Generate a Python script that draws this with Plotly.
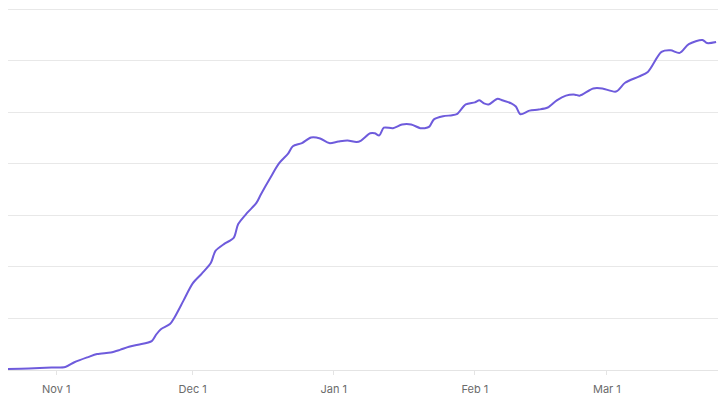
import plotly.graph_objects as go

# values, irregular sampling
dates = [
    "2023-10-21", "2023-10-26", "2023-10-31", "2023-11-03", "2023-11-05",
    "2023-11-08", "2023-11-10", "2023-11-13", "2023-11-15", "2023-11-17",
    "2023-11-19", "2023-11-22", "2023-11-23", "2023-11-24", "2023-11-26",
    "2023-11-27", "2023-11-29", "2023-12-01", "2023-12-03", "2023-12-05",
    "2023-12-06", "2023-12-08", "2023-12-10", "2023-12-11", "2023-12-13",
    "2023-12-15", "2023-12-16", "2023-12-18", "2023-12-20", "2023-12-22",
    "2023-12-23", "2023-12-25", "2023-12-27", "2023-12-29", "2023-12-31",
    "2024-01-02", "2024-01-04", "2024-01-06", "2024-01-07", "2024-01-09",
    "2024-01-10", "2024-01-11", "2024-01-12", "2024-01-14", "2024-01-16",
    "2024-01-18", "2024-01-20", "2024-01-21", "2024-01-22", "2024-01-23",
    "2024-01-25", "2024-01-27", "2024-01-28", "2024-01-30", "2024-02-01",
    "2024-02-02", "2024-02-03", "2024-02-04", "2024-02-06", "2024-02-07",
    "2024-02-09", "2024-02-10", "2024-02-11", "2024-02-13", "2024-02-15",
    "2024-02-17", "2024-02-19", "2024-02-21", "2024-02-23", "2024-02-24",
    "2024-02-27", "2024-02-29", "2024-03-03", "2024-03-05", "2024-03-08",
    "2024-03-10", "2024-03-13", "2024-03-15", "2024-03-17", "2024-03-19",
    "2024-03-22", "2024-03-23", "2024-03-25",
]
values = [
    0.2, 0.3, 0.5, 0.6, 1.5,
    2.5, 3.1, 3.4, 3.9, 4.5,
    4.9, 5.6, 6.9, 7.9, 8.9,
    10.2, 13.5, 16.8, 18.7, 20.8,
    23.1, 24.5, 25.6, 28.3, 30.5,
    32.4, 34.1, 37.2, 40.1, 42.0,
    43.4, 44.0, 45.1, 44.9, 44.0,
    44.3, 44.5, 44.2, 44.5, 45.9,
    45.9, 45.5, 47.0, 46.9, 47.6,
    47.6, 46.9, 46.9, 47.2, 48.6,
    49.2, 49.4, 49.6, 51.5, 51.9,
    52.3, 51.7, 51.5, 52.6, 52.3,
    51.7, 51.1, 49.6, 50.3, 50.5,
    50.9, 52.3, 53.2, 53.4, 53.2,
    54.6, 54.6, 54.0, 55.7, 56.9,
    57.8, 61.7, 62.0, 61.5, 63.2,
    64.0, 63.4, 63.6,
]

fig = go.Figure()
fig.add_trace(go.Scatter(x=dates, y=values, mode="lines",
                         line=dict(color="#6E5BDC", width=2, shape="spline", smoothing=0.8),
                         hoverinfo="x+y"))

# page body adds 8px around the figure, so the figure is a bit smaller than the window
fig.update_layout(
    width=720, height=405,
    margin=dict(l=0, r=10, t=0, b=43),
    paper_bgcolor="white", plot_bgcolor="white",
    showlegend=False,
    font=dict(family="Inter, Roboto, sans-serif", size=11, color="#6b6b6b"),
)
fig.update_xaxes(
    range=["2023-10-21 10:00", "2024-03-25 10:00"],
    tick0="2023-11-01", dtick="M1", tickformat="%b %-d",
    showgrid=False, showline=True, linecolor="#e4e4e4", linewidth=1,
    ticks="outside", ticklen=4, tickcolor="#e4e4e4",
    ticklabelstandoff=5,
    zeroline=False,
)
fig.update_yaxes(
    range=[0, 70.2], dtick=10,
    showticklabels=False, gridcolor="#e8e8e8", gridwidth=1,
    zeroline=False, showline=False,
)

fig.write_html("out.html")
